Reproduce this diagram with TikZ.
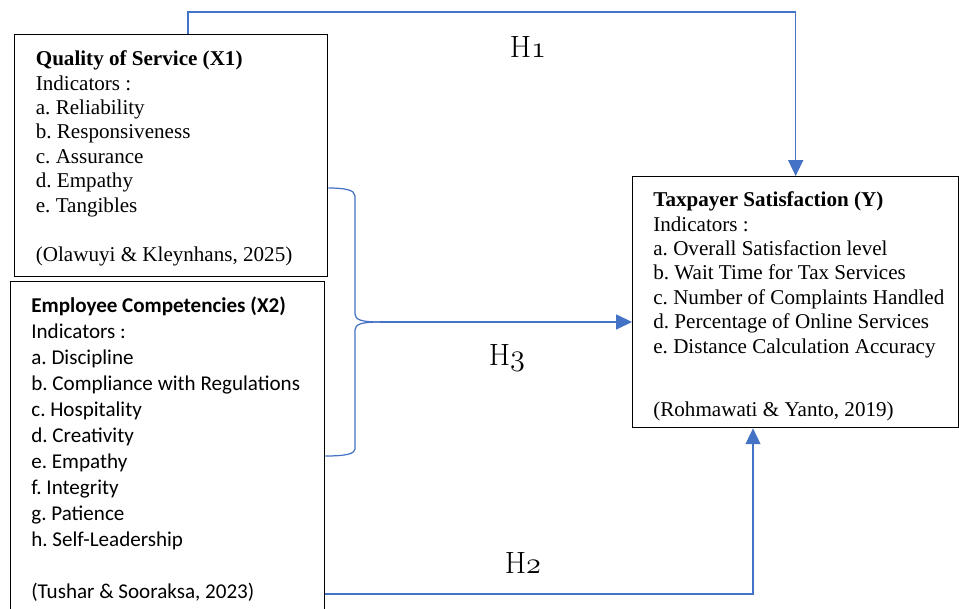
\documentclass[tikz,border=0pt]{standalone}
\usepackage{fontspec}
\newfontfamily\tnr{Liberation Serif}
\newfontfamily\calib{Carlito}
\usepackage{xcolor}
\definecolor{linkblue}{HTML}{4472C4}
\usetikzlibrary{positioning,arrows.meta}
\frenchspacing

\begin{document}
\begin{tikzpicture}[x=0.02cm, y=-0.02cm,
    box/.style={draw, line width=0.8pt, inner sep=0pt, anchor=north west},
    txt/.style={inner sep=0pt, align=left, anchor=north west},
    link/.style={draw=linkblue, line width=0.7pt},
    arr/.style={link, -{Triangle[width=8.5pt,length=9pt]}},
    hyp/.style={font=\fontsize{17.5}{20}\selectfont}]
  \useasboundingbox (0,0) rectangle (959,608);
  \clip (0,0) rectangle (959,608);

  % boxes
  \node[box, minimum width=6.26cm, minimum height=4.84cm] (x1) at (14,34) {};
  \node[box, minimum width=6.28cm, minimum height=6.8cm] (x2) at (10,281) {};
  \node[box, minimum width=6.52cm, minimum height=5.02cm] (y) at (632,176) {};

  % texts
  \node[txt, font=\tnr\fontsize{12}{13.9}\selectfont, below right=0.33cm and 0.43cm of x1.north west] (x1txt)
    {\textbf{Quality of Service (X1)}\\ Indicators :\\ a. Reliability\\ b. Responsiveness\\ c. Assurance\\
     d. Empathy\\ e. Tangibles\\[13.9pt] (Olawuyi \& Kleynhans, 2025)};
  \node[txt, font=\calib\fontsize{12}{14.8}\selectfont, below right=0.3cm and 0.42cm of x2.north west] (x2txt)
    {\textbf{Employee Competencies (X2)}\\ Indicators :\\ a. Discipline\\ b. Compliance with Regulations\\
     c. Hospitality\\ d. Creativity\\ e. Empathy\\ f. Integrity\\ g. Patience\\ h. Self-Leadership\\[14.8pt]
     (Tushar \& Sooraksa, 2023)};
  \node[txt, font=\tnr\fontsize{12}{13.9}\selectfont, below right=0.31cm and 0.42cm of y.north west] (ytxt)
    {\textbf{Taxpayer Satisfaction (Y)}\\ Indicators :\\ a. Overall Satisfaction level\\ b. Wait Time for Tax Services\\
     c. Number of Complaints Handled\\ d. Percentage of Online Services\\ e. Distance Calculation Accuracy\\[22pt]
     (Rohmawati \& Yanto, 2019)};

  % hypothesis labels
  \node[hyp] (h1lab) at (528,47) {H$\mathnormal{1}$};
  \node[hyp] (h3lab) at (507,358) {H$\mathnormal{3}$};
  \node[hyp] (h2lab) at (523,563) {H$\mathnormal{2}$};

  % H1
  \coordinate (h1) at (188,12);
  \draw[arr] (x1.north -| h1) -- (h1) -| (y.north);
  % H2
  \coordinate (h2) at (753,594);
  \draw[arr] (x2.east |- h2) -- (h2) -- (y.south -| h2);
  % H3 brace
  \coordinate (btop) at (355,188);
  \coordinate (btip) at (380,322);
  \coordinate (bbot) at (355,456);
  \draw[link] (x1.east |- btop) .. controls (345,188) and (355,190) .. (355,196) -- (355,314)
    .. controls (355,320) and (362,322) .. (btip);
  \draw[link] (btip) .. controls (362,322) and (355,324) .. (355,330) -- (355,449)
    .. controls (355,454) and (345,456) .. (x2.east |- bbot);
  \draw[arr] (btip) -- (y.west |- btip);
\end{tikzpicture}
\end{document}
